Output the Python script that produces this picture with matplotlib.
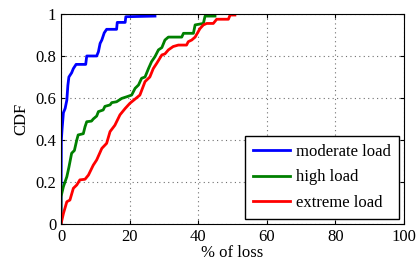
import matplotlib.pyplot as plt

plt.rcParams['font.family'] = ['Liberation Serif', 'DejaVu Serif']

# ---- data (CDF curves, plateaus kept) ----
moderate_x = [0, 0.1, 0.3, 0.7, 1.2, 1.7, 2.0, 2.3, 3.1, 3.6, 4.4, 7.2, 7.5, 10.4, 10.9, 11.4,
              11.9, 12.6, 13.3, 16.2, 16.4, 18.7, 18.9, 27.4]
moderate_y = [0.0, 0.40, 0.45, 0.53, 0.55, 0.59, 0.66, 0.70, 0.72, 0.74, 0.76, 0.76, 0.80, 0.80,
              0.82, 0.86, 0.876, 0.91, 0.927, 0.927, 0.96, 0.96, 0.987, 0.99]

high_x = [0, 0, 0.7, 1.7, 2.3, 3.1, 3.9, 4.6, 5.0, 6.5, 7.0, 7.5, 8.9, 9.4, 10.4, 10.9, 12.3,
          12.8, 14.3, 14.8, 16.2, 17.7, 19.2, 20.6, 21.6, 22.6, 23.5, 24.5, 25.5, 26.4, 27.4,
          28.4, 29.4, 30.3, 31.3, 35.2, 35.7, 38.6, 39.1, 41.5, 42.0, 44.9]
high_y = [0.0, 0.13, 0.178, 0.225, 0.27, 0.337, 0.35, 0.40, 0.424, 0.43, 0.463, 0.487, 0.49,
          0.50, 0.514, 0.535, 0.543, 0.56, 0.567, 0.578, 0.582, 0.598, 0.606, 0.614, 0.646,
          0.662, 0.694, 0.70, 0.74, 0.773, 0.797, 0.829, 0.84, 0.876, 0.89, 0.89, 0.908, 0.908,
          0.948, 0.955, 0.99, 0.99]

extreme_x = [0, 0.7, 1.7, 2.6, 3.6, 4.6, 5.5, 7.0, 8.0, 9.4, 10.4, 11.9, 13.3, 14.3, 15.7, 17.2,
             18.7, 20.1, 21.6, 23.0, 24.5, 25.9, 26.9, 27.9, 29.4, 30.3, 31.3, 32.7, 34.2, 36.6,
             37.1, 38.1, 39.1, 40.5, 41.5, 42.5, 44.4, 45.4, 48.8, 49.3, 50.7]
extreme_y = [0.0, 0.05, 0.106, 0.114, 0.17, 0.186, 0.21, 0.213, 0.233, 0.28, 0.305, 0.36, 0.384,
             0.44, 0.47, 0.52, 0.55, 0.575, 0.595, 0.614, 0.678, 0.70, 0.74, 0.765, 0.805, 0.81,
             0.829, 0.845, 0.852, 0.852, 0.868, 0.876, 0.89, 0.93, 0.948, 0.955, 0.955, 0.975,
             0.975, 0.995, 0.995]

fig = plt.figure(figsize=(4.19, 2.61), dpi=100)
ax = fig.add_axes([0.1456, 0.1418, 0.8186, 0.8046])

ax.plot(moderate_x, moderate_y, color='#0000ff', lw=2, label='moderate load')
ax.plot(high_x, high_y, color='#008000', lw=2, label='high load')
ax.plot(extreme_x, extreme_y, color='#ff0000', lw=2, label='extreme load')

ax.set_xlim(0, 100)
ax.set_ylim(0, 1)
ax.set_xticks([0, 20, 40, 60, 80, 100])
ax.set_yticks([0, 0.2, 0.4, 0.6, 0.8, 1])
ax.set_yticklabels(['0', '0.2', '0.4', '0.6', '0.8', '1'])
ax.grid(True, linestyle=(0, (1, 3)), color='#707070', lw=0.8)
ax.tick_params(direction='in', top=True, right=True, labelsize=12, length=3)
ax.set_xlabel('% of loss', fontsize=12, labelpad=0)
ax.set_ylabel('CDF', fontsize=12, labelpad=4)

leg = ax.legend(loc='lower right', fontsize=12, fancybox=False, edgecolor='black',
                handlelength=2.2, borderaxespad=0.3, labelspacing=0.55, handletextpad=0.35,
                borderpad=0.5)
leg.get_frame().set_linewidth(1.0)
leg.get_frame().set_alpha(1)

fig.savefig('out.png')
